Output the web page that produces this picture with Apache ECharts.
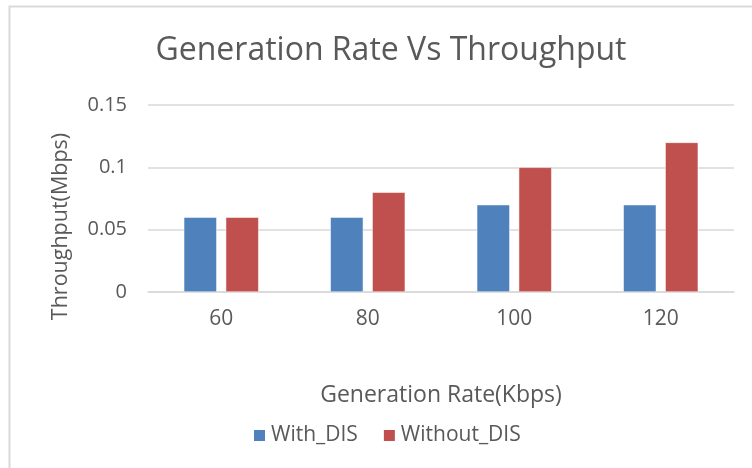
<!DOCTYPE html>
<html>
<head>
<meta charset="utf-8">
<script src="https://cdn.jsdelivr.net/npm/echarts@6/dist/echarts.min.js"></script>
<style>
  html, body { margin: 0; padding: 0; background: #fff; }
  #main { width: 752px; height: 468px; }
</style>
</head>
<body>
<div id="main"></div>
<script>
var chart = echarts.init(document.getElementById('main'));

var categories = ['60', '80', '100', '120'];
var withDis = [0.06, 0.06, 0.07, 0.07];
var withoutDis = [0.06, 0.08, 0.10, 0.12];
var yTicks = [0, 0.05, 0.1, 0.15];

var textColor = '#595959';
var fontName = 'Open Sans';

var option = {
    backgroundColor: '#fff',
    animation: false,
    title: {
        text: 'Generation Rate Vs Throughput',
        left: 386,
        top: 30,
        textAlign: 'center',
        textStyle: {
            fontFamily: fontName,
            fontWeight: 'normal',
            fontSize: 32,
            color: textColor
        }
    },
    graphic: [{
        type: 'rect',
        shape: { x: 9.5, y: 6.5, width: 800, height: 500 },
        style: { fill: 'none', stroke: '#d9d9d9', lineWidth: 2 },
        silent: true
    }],
    legend: {
        top: 420,
        left: 247,
        itemWidth: 13,
        itemHeight: 13,
        itemGap: 24,
        icon: 'rect',
        textStyle: { fontFamily: fontName, fontSize: 21, color: textColor },
        data: ['With_DIS', 'Without_DIS']
    },
    grid: {
        left: 148,
        right: 18,
        top: 105,
        bottom: 176
    },
    xAxis: {
        type: 'category',
        data: categories,
        name: 'Generation Rate(Kbps)',
        nameLocation: 'middle',
        nameGap: 92,
        nameTextStyle: { fontFamily: fontName, fontSize: 23, color: textColor },
        axisLine: { lineStyle: { color: '#d9d9d9', width: 1.5 } },
        axisTick: { show: false },
        axisLabel: { fontFamily: fontName, fontSize: 21, color: textColor, margin: 17 }
    },
    yAxis: {
        type: 'value',
        min: yTicks[0],
        max: yTicks[yTicks.length - 1],
        interval: 0.05,
        name: 'Throughput(Mbps)',
        nameLocation: 'middle',
        nameGap: 76,
        nameTextStyle: { fontFamily: fontName, fontSize: 21.5, color: textColor, padding: [0, 56, 0, 0] },
        axisLine: { show: false },
        axisTick: { show: false },
        splitLine: { lineStyle: { color: '#d9d9d9', width: 1.5 } },
        axisLabel: {
            fontFamily: fontName, fontSize: 20, color: textColor, margin: 21,
            formatter: function (v) { return String(Math.round(v * 100) / 100); }
        }
    },
    series: [
        {
            name: 'With_DIS',
            type: 'bar',
            data: withDis,
            barWidth: 33,
            barGap: '27%',
            itemStyle: { color: '#4f81bd', borderColor: '#fff', borderWidth: 0.5 }
        },
        {
            name: 'Without_DIS',
            type: 'bar',
            data: withoutDis,
            barWidth: 33,
            itemStyle: { color: '#c0504d', borderColor: '#fff', borderWidth: 0.5 }
        }
    ]
};

chart.setOption(option);
</script>
</body>
</html>
